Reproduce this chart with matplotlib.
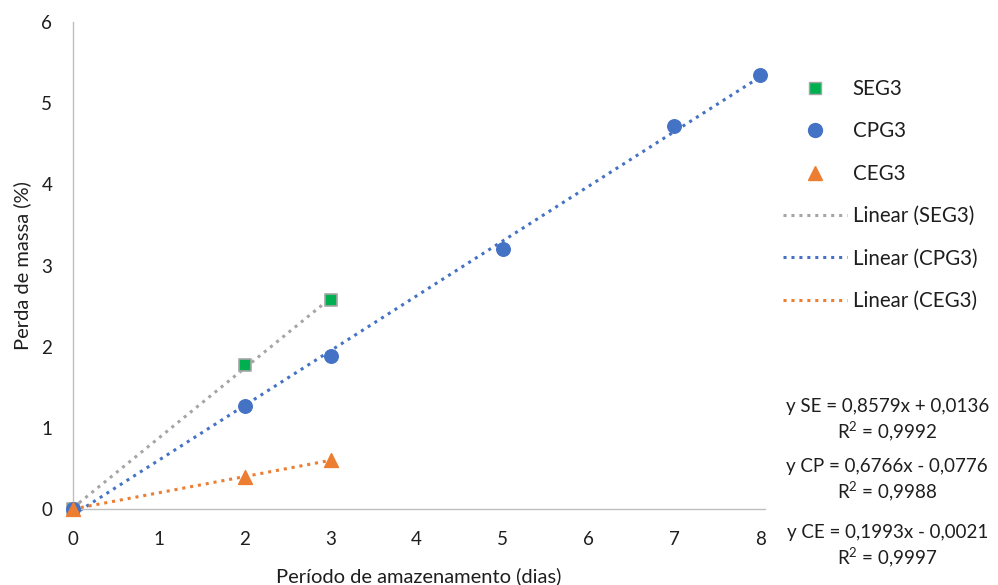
import numpy as np
import matplotlib
matplotlib.use("Agg")
import matplotlib.pyplot as plt
from matplotlib.lines import Line2D

plt.rcParams['font.family'] = ['Lato', 'DejaVu Sans']
plt.rcParams['mathtext.fontset'] = 'custom'
plt.rcParams['mathtext.rm'] = 'Lato'

seg_x = [0, 2, 3]
seg_y = [0.0, 1.78, 2.57]
cpg_x = [0, 2, 3, 5, 7, 8]
cpg_y = [0.0, 1.27, 1.89, 3.20, 4.72, 5.35]
ceg_x = [0, 2, 3]
ceg_y = [0.0, 0.40, 0.60]

eq_texts = ["y SE = 0,8579x + 0,0136\nR$^2$ = 0,9992",
            "y CP = 0,6766x - 0,0776\nR$^2$ = 0,9988",
            "y CE = 0,1993x - 0,0021\nR$^2$ = 0,9997"]

fig = plt.figure(figsize=(9.98, 5.85), dpi=100)
left = 73 / 998
right = 764.5 / 998
ax = fig.add_axes([left, 1 - 509 / 585, right - left, (509 - 22) / 585])

c_green = '#00b050'
c_blue = '#4472c4'
c_orange = '#ed7d31'
c_gray = '#a5a5a5'
txt = '#1e1e1e'

def trend(x, y, color):
    p = np.polyfit(x, y, 1)
    xs = np.array([min(x), max(x)])
    ax.plot(xs, np.polyval(p, xs), linestyle=(0, (1, 1.6)), color=color, lw=2.2,
            zorder=2, clip_on=False)

trend(seg_x, seg_y, c_gray)
trend(cpg_x, cpg_y, c_blue)
trend(ceg_x, ceg_y, c_orange)

ax.scatter(seg_x, seg_y, marker='s', s=80, color=c_green, edgecolor='#a5a5a5', linewidth=1.2, zorder=3, clip_on=False)
ax.scatter(cpg_x, cpg_y, marker='o', s=95, color=c_blue, zorder=3, clip_on=False)
ax.scatter(ceg_x, ceg_y, marker='^', s=100, color=c_orange, zorder=4, clip_on=False)

ax.set_xlim(0, 8.05)
ax.set_ylim(0, 6)
ax.set_xticks(range(0, 9))
ax.set_yticks(range(0, 7))
for s in ['top', 'right']:
    ax.spines[s].set_visible(False)
for s in ['left', 'bottom']:
    ax.spines[s].set_color('#bfbfbf')
    ax.spines[s].set_linewidth(1.0)
ax.tick_params(axis='y', length=0, labelsize=13.5, colors=txt, pad=15)
ax.tick_params(axis='x', length=0, labelsize=13.5, colors=txt, pad=16)
ax.set_xlabel('Período de amazenamento (dias)', fontsize=14.5, color=txt, labelpad=14)
ax.set_ylabel('Perda de massa (%)', fontsize=14.5, color=txt, labelpad=7)

handles = [
    Line2D([], [], marker='s', linestyle='none', markersize=9, markerfacecolor=c_green, markeredgecolor='#a5a5a5'),
    Line2D([], [], marker='o', linestyle='none', markersize=10, color=c_blue),
    Line2D([], [], marker='^', linestyle='none', markersize=10, color=c_orange),
    Line2D([], [], linestyle=(0, (1, 1.6)), lw=2.2, color=c_gray),
    Line2D([], [], linestyle=(0, (1, 1.6)), lw=2.2, color=c_blue),
    Line2D([], [], linestyle=(0, (1, 1.6)), lw=2.2, color=c_orange),
]
labels = ['SEG3', 'CPG3', 'CEG3', 'Linear (SEG3)', 'Linear (CPG3)', 'Linear (CEG3)']
fig.legend(handles, labels, loc='upper left', bbox_to_anchor=(0.766, 0.8966), frameon=False,
           fontsize=14.8, labelspacing=1.09, handlelength=3.1, handletextpad=0.3, labelcolor=txt)

ys = [1 - 421 / 585, 1 - 481 / 585, 1 - 547 / 585]
for t, y in zip(eq_texts, ys):
    fig.text(0.889, y, t, ha='center', va='center', fontsize=13.5, color=txt, linespacing=1.25)

fig.savefig('out.png', dpi=100)
